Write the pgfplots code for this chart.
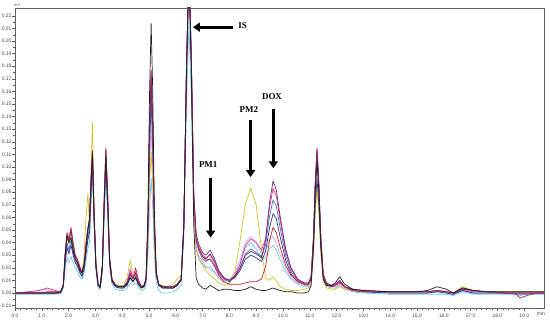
\documentclass[border=0pt]{standalone}
\usepackage{fontspec}
\setmainfont{Liberation Sans}
\newfontfamily\annot{Liberation Serif}
\usepackage{pgfplots}
\usepackage{pgfplotstable}
\pgfplotsset{compat=1.18}
\usetikzlibrary{arrows.meta}
\definecolor{cK}{RGB}{30,30,30}
\definecolor{cY}{RGB}{205,195,40}
\definecolor{cR}{RGB}{200,35,45}
\definecolor{cP}{RGB}{115,40,100}
\definecolor{cM}{RGB}{225,50,165}
\definecolor{cB}{RGB}{60,120,185}
\definecolor{cC}{RGB}{110,195,235}
\definecolor{cL}{RGB}{210,165,225}
\definecolor{cN}{RGB}{45,60,130}
\pgfplotstableread{
x k y r p m b c l n
0.0 0.000 0.000 0.000 0.000 0.000 0.000 -0.001 0.000 0.000
0.5 0.000 0.000 0.000 0.000 0.001 0.000 -0.001 0.001 0.000
0.9 0.000 0.000 0.000 0.000 0.002 0.000 -0.001 0.002 0.000
1.2 0.000 0.000 0.001 0.000 0.004 0.000 -0.001 0.003 0.000
1.5 0.000 0.000 0.001 0.000 0.002 0.000 -0.001 0.001 0.000
1.7 0.001 0.001 0.001 0.001 0.001 0.000 0.000 0.001 0.000
1.8 0.006 0.005 0.006 0.006 0.006 0.005 0.004 0.005 0.005
1.87 0.030 0.028 0.031 0.030 0.030 0.025 0.018 0.024 0.023
1.94 0.046 0.044 0.048 0.045 0.047 0.040 0.028 0.038 0.036
2.01 0.040 0.039 0.043 0.041 0.042 0.034 0.024 0.033 0.031
2.09 0.044 0.047 0.052 0.050 0.051 0.042 0.029 0.040 0.038
2.17 0.034 0.036 0.040 0.038 0.039 0.032 0.024 0.031 0.030
2.25 0.027 0.027 0.030 0.029 0.029 0.025 0.020 0.025 0.024
2.33 0.024 0.024 0.027 0.026 0.026 0.022 0.017 0.022 0.021
2.42 0.018 0.019 0.021 0.020 0.020 0.017 0.013 0.017 0.016
2.5 0.016 0.015 0.017 0.016 0.016 0.014 0.011 0.014 0.013
2.58 0.022 0.030 0.024 0.023 0.023 0.020 0.016 0.020 0.019
2.65 0.036 0.060 0.040 0.038 0.039 0.034 0.026 0.033 0.031
2.72 0.050 0.079 0.052 0.050 0.051 0.045 0.035 0.044 0.042
2.78 0.060 0.055 0.058 0.056 0.058 0.052 0.040 0.050 0.048
2.84 0.090 0.100 0.092 0.090 0.091 0.085 0.070 0.082 0.080
2.89 0.110 0.135 0.113 0.112 0.113 0.108 0.095 0.105 0.104
2.95 0.062 0.072 0.064 0.063 0.064 0.060 0.052 0.059 0.058
3.02 0.022 0.024 0.023 0.022 0.023 0.021 0.017 0.021 0.020
3.1 0.007 0.008 0.007 0.007 0.007 0.006 0.004 0.006 0.006
3.18 0.005 0.006 0.005 0.005 0.005 0.004 0.003 0.004 0.004
3.26 0.021 0.022 0.022 0.022 0.022 0.020 0.016 0.020 0.019
3.33 0.072 0.074 0.077 0.075 0.076 0.070 0.060 0.068 0.067
3.39 0.108 0.112 0.115 0.113 0.114 0.106 0.090 0.103 0.101
3.46 0.072 0.075 0.077 0.075 0.076 0.071 0.060 0.069 0.068
3.53 0.026 0.028 0.028 0.027 0.028 0.025 0.020 0.025 0.024
3.62 0.010 0.011 0.011 0.010 0.011 0.009 0.007 0.009 0.009
3.75 0.006 0.007 0.006 0.006 0.006 0.005 0.003 0.005 0.005
3.9 0.005 0.006 0.005 0.005 0.005 0.004 0.002 0.004 0.004
4.05 0.005 0.006 0.005 0.005 0.005 0.004 0.002 0.004 0.004
4.18 0.007 0.012 0.008 0.008 0.009 0.007 0.004 0.008 0.006
4.3 0.012 0.026 0.016 0.015 0.018 0.013 0.008 0.020 0.012
4.4 0.009 0.014 0.012 0.011 0.012 0.009 0.006 0.012 0.009
4.5 0.012 0.013 0.020 0.016 0.017 0.012 0.008 0.014 0.013
4.6 0.007 0.008 0.011 0.009 0.010 0.008 0.005 0.008 0.007
4.72 0.004 0.005 0.005 0.005 0.005 0.004 0.002 0.004 0.004
4.82 0.006 0.007 0.006 0.006 0.006 0.005 0.003 0.005 0.005
4.89 0.012 0.009 0.011 0.011 0.011 0.010 0.006 0.010 0.011
4.96 0.064 0.036 0.054 0.053 0.053 0.047 0.029 0.041 0.050
5.02 0.158 0.085 0.131 0.128 0.130 0.112 0.068 0.097 0.119
5.08 0.214 0.112 0.177 0.172 0.175 0.150 0.091 0.130 0.160
5.14 0.160 0.086 0.133 0.130 0.132 0.114 0.069 0.099 0.121
5.20 0.066 0.038 0.056 0.055 0.055 0.049 0.030 0.043 0.052
5.27 0.017 0.013 0.016 0.016 0.016 0.014 0.008 0.013 0.015
5.36 0.007 0.007 0.007 0.007 0.007 0.006 0.002 0.006 0.006
5.5 0.005 0.006 0.005 0.005 0.005 0.004 0.000 0.004 0.004
5.7 0.004 0.005 0.005 0.005 0.005 0.004 0.000 0.004 0.004
5.9 0.004 0.007 0.005 0.005 0.005 0.004 0.001 0.005 0.004
6.05 0.006 0.011 0.007 0.007 0.007 0.006 0.003 0.007 0.006
6.2 0.010 0.014 0.011 0.011 0.011 0.011 0.006 0.011 0.011
6.3 0.052 0.056 0.054 0.054 0.054 0.053 0.044 0.052 0.053
6.4 0.176 0.179 0.180 0.180 0.180 0.176 0.150 0.172 0.176
6.49 0.258 0.258 0.260 0.260 0.260 0.255 0.215 0.250 0.255
6.58 0.176 0.182 0.186 0.188 0.187 0.182 0.154 0.178 0.184
6.67 0.054 0.066 0.076 0.080 0.078 0.074 0.063 0.070 0.076
6.76 0.012 0.034 0.043 0.047 0.045 0.041 0.035 0.037 0.043
6.85 0.007 0.027 0.035 0.039 0.037 0.034 0.028 0.030 0.036
7.0 0.004 0.022 0.029 0.032 0.030 0.027 0.023 0.025 0.029
7.12 0.003 0.018 0.026 0.030 0.028 0.025 0.020 0.021 0.027
7.28 0.006 0.014 0.027 0.034 0.030 0.027 0.021 0.019 0.031
7.45 0.004 0.011 0.021 0.027 0.024 0.022 0.017 0.016 0.025
7.6 0.002 0.008 0.014 0.018 0.016 0.015 0.012 0.012 0.017
7.8 0.003 0.006 0.009 0.012 0.011 0.011 0.008 0.010 0.012
8.0 0.003 0.007 0.007 0.010 0.010 0.009 0.008 0.010 0.010
8.2 0.002 0.016 0.007 0.013 0.014 0.013 0.013 0.016 0.012
8.4 0.002 0.042 0.007 0.020 0.023 0.020 0.023 0.026 0.018
8.6 0.003 0.071 0.008 0.030 0.038 0.031 0.036 0.040 0.027
8.8 0.005 0.083 0.009 0.033 0.043 0.035 0.040 0.045 0.030
9.0 0.003 0.070 0.009 0.031 0.040 0.032 0.035 0.040 0.028
9.2 0.002 0.034 0.011 0.028 0.034 0.029 0.027 0.031 0.025
9.35 0.002 0.012 0.021 0.042 0.043 0.038 0.028 0.033 0.033
9.5 0.003 0.010 0.042 0.072 0.068 0.061 0.035 0.042 0.052
9.63 0.004 0.013 0.052 0.089 0.083 0.074 0.038 0.045 0.063
9.75 0.003 0.010 0.048 0.082 0.077 0.069 0.034 0.040 0.059
9.9 0.002 0.005 0.036 0.060 0.057 0.051 0.026 0.030 0.044
10.1 0.001 0.003 0.022 0.035 0.033 0.030 0.017 0.020 0.026
10.3 0.001 0.002 0.014 0.020 0.019 0.017 0.011 0.012 0.015
10.55 0.000 0.002 0.009 0.011 0.010 0.010 0.007 0.008 0.009
10.8 0.000 0.003 0.007 0.008 0.008 0.007 0.005 0.006 0.007
10.95 0.001 0.004 0.007 0.008 0.008 0.007 0.005 0.006 0.007
11.05 0.006 0.007 0.012 0.013 0.013 0.012 0.010 0.011 0.011
11.14 0.037 0.031 0.044 0.045 0.045 0.043 0.041 0.041 0.036
11.2 0.078 0.062 0.084 0.086 0.085 0.082 0.080 0.078 0.068
11.27 0.105 0.083 0.112 0.115 0.114 0.110 0.108 0.105 0.091
11.34 0.079 0.063 0.085 0.087 0.086 0.083 0.081 0.079 0.069
11.41 0.039 0.032 0.044 0.045 0.045 0.043 0.041 0.041 0.036
11.5 0.011 0.010 0.014 0.015 0.015 0.014 0.012 0.013 0.013
11.62 0.006 0.004 0.007 0.008 0.008 0.007 0.005 0.006 0.007
11.8 0.006 0.003 0.005 0.006 0.006 0.005 0.004 0.005 0.005
11.95 0.008 0.003 0.006 0.007 0.006 0.006 0.004 0.005 0.006
12.12 0.013 0.005 0.008 0.010 0.009 0.009 0.006 0.007 0.009
12.3 0.007 0.003 0.005 0.005 0.005 0.005 0.003 0.004 0.005
12.6 0.003 0.002 0.002 0.003 0.003 0.002 0.001 0.002 0.002
13.0 0.002 0.001 0.001 0.002 0.002 0.001 0.000 0.001 0.001
14.0 0.001 0.001 0.001 0.001 0.001 0.000 -0.001 0.001 0.000
15.0 0.001 0.001 0.001 0.001 0.001 0.000 -0.001 0.001 0.000
15.4 0.002 0.001 0.001 0.001 0.001 0.000 -0.001 0.001 0.000
15.75 0.005 0.002 0.002 0.002 0.002 0.001 -0.001 0.001 0.001
16.1 0.003 0.001 0.001 0.001 0.001 0.000 -0.001 0.001 0.000
16.35 0.000 0.000 0.000 0.000 0.000 -0.001 -0.002 0.000 -0.001
16.7 0.004 0.005 0.004 0.003 0.003 0.002 0.001 0.002 0.002
17.1 0.002 0.002 0.002 0.002 0.001 0.000 -0.001 0.001 0.000
17.6 0.001 0.001 0.001 0.001 0.001 0.000 -0.001 0.001 0.000
18.3 0.001 0.001 0.000 0.000 0.000 0.000 -0.001 0.000 0.000
18.65 0.001 0.001 0.000 0.000 0.000 -0.001 -0.001 0.000 0.000
18.85 0.001 0.001 -0.004 0.000 0.000 -0.001 -0.002 0.000 0.000
19.1 0.001 0.001 -0.002 0.000 0.000 -0.001 -0.001 0.000 0.000
19.5 0.001 0.001 0.000 0.000 0.000 0.000 -0.001 0.000 0.000
19.74 0.001 0.001 0.000 0.000 0.000 0.000 -0.001 0.000 0.000
}\chrom
\begin{document}
\begin{tikzpicture}
\begin{axis}[
  at={(0,0)}, anchor=south west,
  scale only axis, width=529bp, height=300bp,
  xmin=0, xmax=19.74, ymin=-0.0119, ymax=0.2262,
  axis line style={gray!75!black, line width=0.5pt},
  tick align=outside, tick pos=left,
  xtick={0,1,...,19}, minor x tick num=4,
  ytick={-0.01,0,0.01,0.02,0.03,0.04,0.05,0.06,0.07,0.08,0.09,0.10,0.11,0.12,0.13,0.14,0.15,0.16,0.17,0.18,0.19,0.20,0.21,0.22},
  minor y tick num=1,
  major tick length=2.5bp, minor tick length=1.5bp,
  tick style={gray!70!black, line width=0.4pt},
  scaled y ticks=false, scaled x ticks=false,
  /pgf/number format/assume math mode=true,
  ticklabel style={font=\fontsize{5}{6}\selectfont, text=gray!55!black},
  xticklabel style={/pgf/number format/.cd, fixed, fixed zerofill, precision=1},
  yticklabel style={/pgf/number format/.cd, fixed, fixed zerofill, precision=2, /tikz/.cd, inner sep=0.8bp},
  every axis plot/.append style={line width=0.7pt, line join=round, mark=none},
]
\addplot[cC] table[x=x,y=c]{\chrom};
\addplot[cL] table[x=x,y=l]{\chrom};
\addplot[cY] table[x=x,y=y]{\chrom};
\addplot[cB] table[x=x,y=b]{\chrom};
\addplot[cN] table[x=x,y=n]{\chrom};
\addplot[cR] table[x=x,y=r]{\chrom};
\addplot[cM] table[x=x,y=m]{\chrom};
\addplot[cP] table[x=x,y=p]{\chrom};
\addplot[cK] table[x=x,y=k]{\chrom};
% annotations
\draw[line width=3bp, -{Triangle[width=9bp,length=7bp]}] (axis cs:8.13,0.211) -- (axis cs:6.64,0.211);
\node[font=\annot\bfseries\fontsize{9}{10}\selectfont] at (axis cs:8.49,0.212) {IS};
\draw[line width=3bp, -{Triangle[width=9bp,length=7bp]}] (axis cs:8.79,0.137) -- (axis cs:8.79,0.092);
\node[font=\annot\bfseries\fontsize{9}{10}\selectfont] at (axis cs:8.73,0.146) {PM2};
\draw[line width=3bp, -{Triangle[width=9bp,length=7bp]}] (axis cs:9.64,0.146) -- (axis cs:9.64,0.099);
\node[font=\annot\bfseries\fontsize{9}{10}\selectfont] at (axis cs:9.59,0.156) {DOX};
\draw[line width=3bp, -{Triangle[width=9bp,length=7bp]}] (axis cs:7.30,0.091) -- (axis cs:7.30,0.044);
\node[font=\annot\bfseries\fontsize{9}{10}\selectfont] at (axis cs:7.21,0.102) {PM1};
\end{axis}
\node[font=\fontsize{4}{5}\selectfont, text=gray!55!black, anchor=south west, inner sep=0pt] at (-1bp,301.5bp) {mV};
\node[font=\fontsize{5}{6}\selectfont, text=gray!55!black, inner sep=0pt] at (526bp,-6bp) {min};
\pgfresetboundingbox
\useasboundingbox (-15bp,-15bp) rectangle (535bp,308bp);
\end{tikzpicture}
\end{document}
